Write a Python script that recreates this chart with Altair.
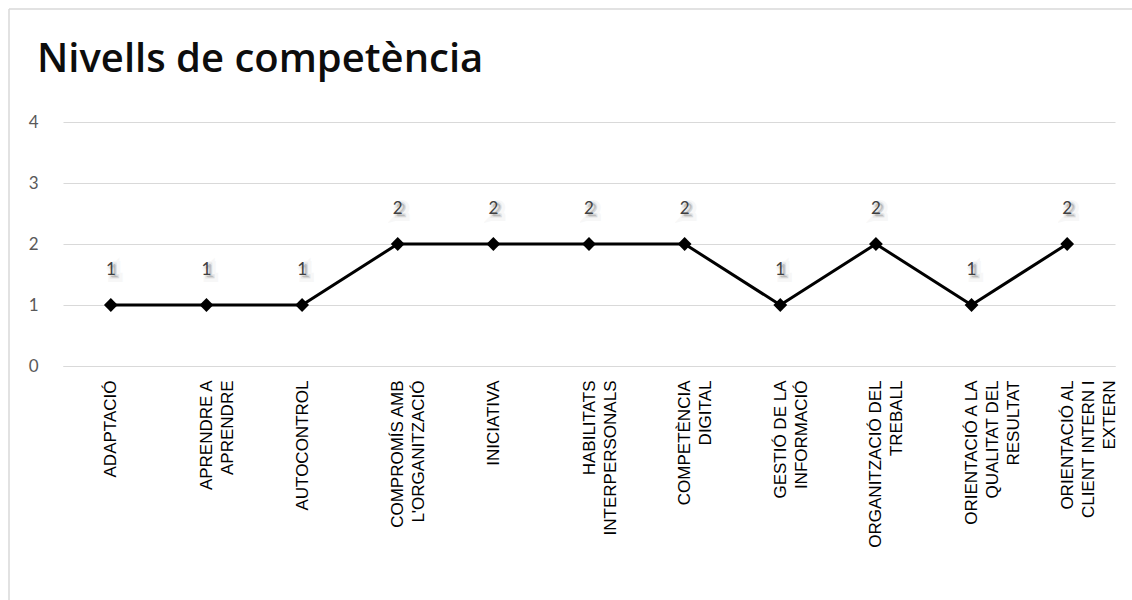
import altair as alt
import pandas as pd

# Competencies (use "|" as the line break in axis labels) and their levels
competencies = [
    "ADAPTACIÓ",
    "APRENDRE A|APRENDRE",
    "AUTOCONTROL",
    "COMPROMÍS AMB|L'ORGANITZACIÓ",
    "INICIATIVA",
    "HABILITATS|INTERPERSONALS",
    "COMPETÈNCIA|DIGITAL",
    "GESTIÓ DE LA|INFORMACIÓ",
    "ORGANITZACIÓ DEL|TREBALL",
    "ORIENTACIÓ A LA|QUALITAT DEL|RESULTAT",
    "ORIENTACIÓ AL|CLIENT INTERN I|EXTERN",
]
levels = [1, 1, 1, 2, 2, 2, 2, 1, 2, 1, 2]
y_ticks = [0, 1, 2, 3, 4]
title_text = "Nivells de competència"

df = pd.DataFrame({"competencia": competencies, "nivell": levels})

W, H = 1052, 244
GRID = "#d9d9d9"

x_enc = alt.X(
    "competencia:N",
    sort=competencies,
    title=None,
    scale=alt.Scale(paddingOuter=0.5),
    axis=alt.Axis(
        labelAngle=-90,
        labelExpr="split(datum.label, '|')",
        labelFont="Liberation Sans",
        labelFontSize=17,
        labelLineHeight=21,
        labelColor="#000000",
        labelPadding=14,
        labelLimit=400,
        ticks=False,
        domainColor=GRID,
        domainWidth=1,
        grid=False,
    ),
)
y_enc = alt.Y(
    "nivell:Q",
    title=None,
    scale=alt.Scale(domain=[0, 4], nice=False),
    axis=alt.Axis(
        values=y_ticks,
        format="d",
        domain=False,
        ticks=False,
        gridColor=GRID,
        gridWidth=1,
        labelFont="Lato",
        labelFontSize=17,
        labelColor="#595959",
        labelPadding=25,
    ),
)

base = alt.Chart(df).encode(x=x_enc, y=y_enc)

line = base.mark_line(color="#000000", strokeWidth=3)
points = base.mark_point(shape="diamond", filled=True, size=190, color="#000000", opacity=1)

# Soft drop shadow behind each value label
shadow_wide = base.mark_text(
    font="Lato", fontSize=17, dx=4, dy=-32, color="#b0b0b0", opacity=0.35,
    stroke="#b0b0b0", strokeWidth=8, strokeOpacity=0.25, baseline="middle",
).encode(text="nivell:Q")
shadow = base.mark_text(
    font="Lato", fontSize=17, dx=3, dy=-33, color="#999999", opacity=0.6,
    stroke="#a8a8a8", strokeWidth=3, strokeOpacity=0.35, baseline="middle",
).encode(text="nivell:Q")
labels = base.mark_text(
    font="Lato", fontSize=17, dy=-35, color="#404040", baseline="middle",
).encode(text="nivell:Q")

# Outer chart frame (top and left edges) and the chart title
one = pd.DataFrame({"k": [0]})
frame_top = alt.Chart(one).mark_rule(color=GRID, strokeWidth=1.5).encode(
    x=alt.value(-54), x2=alt.value(W + 40), y=alt.value(-113)
)
frame_left = alt.Chart(one).mark_rule(color=GRID, strokeWidth=1.5).encode(
    x=alt.value(-54), y=alt.value(-113), y2=alt.value(H + 300)
)
title = alt.Chart(one).mark_text(
    text=title_text, font="Open Sans", fontSize=40, fontWeight=600, color="#0d0d0d",
    align="left", baseline="alphabetic",
).encode(x=alt.value(-26), y=alt.value(-50))

chart = (
    alt.layer(frame_top, frame_left, title, line, points, shadow_wide, shadow, labels)
    .properties(
        width=W,
        height=H,
        autosize=alt.AutoSizeParams(type="none"),
        padding={"left": 63, "top": 122, "right": 17, "bottom": 234},
    )
    .configure(background="#ffffff", view=alt.ViewConfig(stroke=None))
)

chart.save("out.html", embed_options={"renderer": "svg", "actions": False})
